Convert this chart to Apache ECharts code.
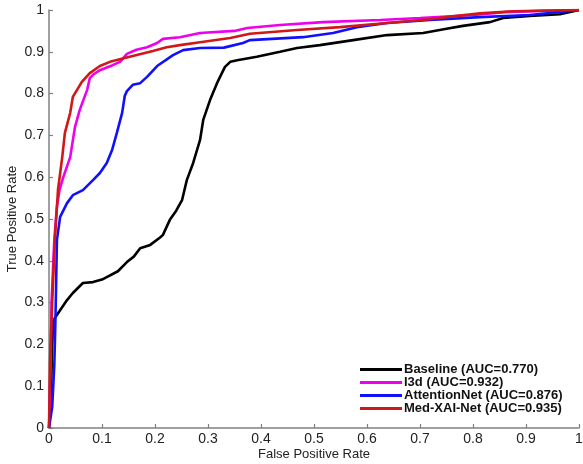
<!DOCTYPE html>
<html><head><meta charset="utf-8">
<script src="https://cdn.jsdelivr.net/npm/echarts@6/dist/echarts.min.js"></script>
<style>html,body{margin:0;padding:0;background:#fff}#c{width:583px;height:464px}</style>
</head><body><div id="c"></div>
<script>
var seriesNames = ['Baseline (AUC=0.770)', 'I3d (AUC=0.932)', 'AttentionNet (AUC=0.876)', 'Med-XAI-Net (AUC=0.935)'];
var seriesColors = ['#000000', '#ee00ee', '#1010ff', '#d01818'];

var baselineFpr = [0,0.004,0.006,0.008,0.011,0.02,0.034,0.045,0.064,0.083,0.1,0.109,0.13,0.147,0.16,0.172,0.191,0.209,0.215,0.228,0.24,0.251,0.26,0.272,0.285,0.291,0.304,0.317,0.332,0.342,0.355,0.392,0.436,0.468,0.511,0.574,0.638,0.706,0.75,0.781,0.832,0.857,0.907,0.964,1];
var baselineTpr = [0,0.1,0.2,0.255,0.263,0.28,0.306,0.323,0.347,0.349,0.355,0.361,0.375,0.397,0.41,0.43,0.438,0.455,0.462,0.498,0.52,0.545,0.593,0.634,0.689,0.737,0.785,0.825,0.864,0.876,0.88,0.888,0.9,0.909,0.916,0.928,0.94,0.945,0.955,0.962,0.971,0.981,0.986,0.99,1];

var i3dFpr = [0,0.003,0.005,0.01,0.015,0.02,0.027,0.04,0.049,0.058,0.072,0.077,0.083,0.096,0.12,0.134,0.147,0.165,0.185,0.204,0.215,0.247,0.285,0.35,0.374,0.436,0.517,0.625,0.7,0.8,0.86,0.93,1];
var i3dTpr = [0,0.15,0.306,0.45,0.53,0.57,0.6,0.648,0.72,0.761,0.809,0.837,0.845,0.856,0.868,0.876,0.895,0.905,0.911,0.921,0.931,0.935,0.945,0.95,0.957,0.964,0.971,0.976,0.981,0.988,0.995,0.998,1];

var attnFpr = [0,0.006,0.01,0.012,0.015,0.021,0.034,0.045,0.064,0.083,0.096,0.109,0.119,0.128,0.138,0.143,0.147,0.158,0.172,0.185,0.204,0.234,0.253,0.285,0.33,0.366,0.379,0.479,0.536,0.581,0.638,0.719,0.813,0.907,1];
var attnTpr = [0,0.05,0.15,0.25,0.45,0.505,0.538,0.557,0.569,0.593,0.61,0.634,0.665,0.706,0.754,0.795,0.806,0.821,0.825,0.84,0.866,0.892,0.904,0.909,0.91,0.921,0.928,0.935,0.945,0.959,0.969,0.976,0.983,0.988,1];

var medFpr = [0,0.002,0.006,0.011,0.017,0.025,0.03,0.04,0.045,0.062,0.077,0.096,0.115,0.158,0.196,0.222,0.247,0.285,0.342,0.379,0.468,0.549,0.638,0.719,0.75,0.813,0.875,1];
var medTpr = [0,0.163,0.3,0.45,0.57,0.648,0.706,0.754,0.792,0.828,0.849,0.866,0.876,0.89,0.902,0.911,0.916,0.923,0.933,0.943,0.952,0.959,0.969,0.978,0.983,0.992,0.997,1];

var axisTicks = [0,0.1,0.2,0.3,0.4,0.5,0.6,0.7,0.8,0.9,1];

function zip(a, b) { return a.map(function (v, i) { return [v, b[i]]; }); }
var allData = [zip(baselineFpr, baselineTpr), zip(i3dFpr, i3dTpr), zip(attnFpr, attnTpr), zip(medFpr, medTpr)];

var font = '"Liberation Sans", Arial, Helvetica, sans-serif';
function axisCfg(name, gap, margin) {
  return {
    type: 'value', min: 0, max: 1, interval: 0.1,
    name: name, nameLocation: 'middle', nameGap: gap, nameMoveOverlap: false,
    nameTextStyle: { fontFamily: font, fontSize: 13, color: '#222' },
    axisLine: { show: true, lineStyle: { color: '#808080', width: 1.5 } },
    axisTick: { show: true, inside: true, length: 4, lineStyle: { color: '#808080', width: 1.2 } },
    axisLabel: { fontFamily: font, fontSize: 14, color: '#222', margin: margin,
      formatter: function (v) { return String(Math.round(v * 10) / 10); } },
    splitLine: { show: false }
  };
}

var chart = echarts.init(document.getElementById('c'), null, { renderer: 'canvas' });
chart.setOption({
  animation: false,
  backgroundColor: '#fff',
  grid: { left: 49, right: 4, top: 10, bottom: 36, containLabel: false, outerBoundsMode: 'none' },
  xAxis: axisCfg('False Positive Rate', 20, 4),
  yAxis: axisCfg('True Positive Rate', 30, 5),
  legend: {
    orient: 'vertical', left: 355, top: 358, itemGap: 0,
    itemWidth: 42, itemHeight: 3, icon: 'rect',
    textStyle: { fontFamily: font, fontSize: 13, fontWeight: 'bold', color: '#111', padding: [0, 0, 0, -3], lineHeight: 12 },
    data: seriesNames
  },
  series: allData.map(function (d, i) {
    return {
      name: seriesNames[i], type: 'line', data: d, showSymbol: false, symbol: 'none',
      lineStyle: { color: seriesColors[i], width: 2.6 }, itemStyle: { color: seriesColors[i] }
    };
  })
});
</script></body></html>
